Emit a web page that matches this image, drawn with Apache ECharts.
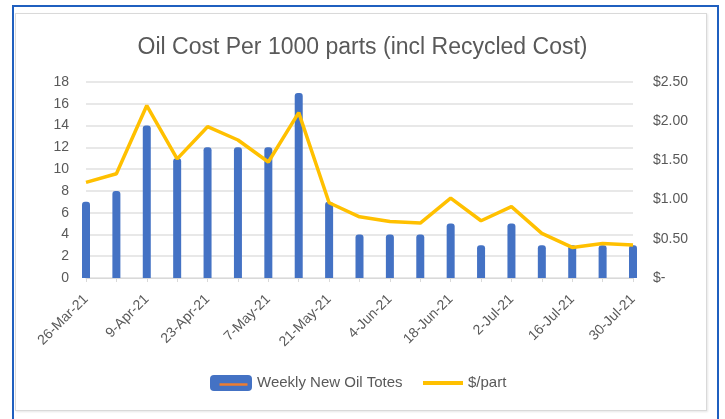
<!DOCTYPE html>
<html>
<head>
<meta charset="utf-8">
<script src="https://cdn.jsdelivr.net/npm/echarts@6/dist/echarts.min.js"></script>
<style>
  html, body { margin: 0; padding: 0; background: #fff; }
  #frame { position: absolute; left: 12px; top: 5px; width: 703px; height: 430px; border: 2px solid #1f5fbf; }
  #card { position: absolute; left: 15px; top: 13px; width: 690px; height: 396px; border: 1px solid #d9d9d9; box-shadow: 1px 1px 2px #e6e6e6; }
  #main { position: absolute; left: 0; top: 0; width: 725px; height: 419px; }
</style>
</head>
<body>
<div id="frame"></div>
<div id="card"></div>
<div id="main"></div>
<script>
// weekly dates
var weeks = ['26-Mar-21', '2-Apr-21', '9-Apr-21', '16-Apr-21', '23-Apr-21', '30-Apr-21', '7-May-21',
  '14-May-21', '21-May-21', '28-May-21', '4-Jun-21', '11-Jun-21', '18-Jun-21', '25-Jun-21',
  '2-Jul-21', '9-Jul-21', '16-Jul-21', '23-Jul-21', '30-Jul-21']
var newOilTotes = [7, 8, 14, 11, 12, 12, 12, 17, 7, 4, 4, 4, 5, 3, 5, 3, 3, 3, 3]
var costPerPart = [1.22, 1.33, 2.20, 1.52, 1.93, 1.76, 1.48, 2.11, 0.96, 0.78, 0.72, 0.70, 1.02, 0.73, 0.91, 0.57, 0.39, 0.44, 0.42]

var labelColor = '#595959'
var fontFam = '"Liberation Sans", Arial, sans-serif'

var myChart = echarts.init(document.getElementById('main'))
myChart.setOption({
  animation: false,
  title: {
    text: 'Oil Cost Per 1000 parts (incl Recycled Cost)',
    left: 'center',
    top: 31,
    textStyle: { fontFamily: fontFam, fontSize: 23, fontWeight: 'normal', color: labelColor }
  },
  // two legends so the bar icon can be a box and the line icon a thin stroke
  legend: [
    {
      data: ['Weekly New Oil Totes'],
      left: 210, top: 375, padding: 0,
      icon: 'roundRect', itemWidth: 42, itemHeight: 16,
      textStyle: { fontFamily: fontFam, fontSize: 15, color: labelColor }
    },
    {
      data: ['$/part'],
      left: 423, top: 375, padding: 0,
      icon: 'rect', itemWidth: 40, itemHeight: 4,
      textStyle: { fontFamily: fontFam, fontSize: 15, color: labelColor, lineHeight: 16 }
    }
  ],
  graphic: [
    // orange stroke Excel draws inside the bar legend swatch
    { type: 'line', left: 217, top: 382, shape: { x1: 0, y1: 0, x2: 28, y2: 0 }, style: { stroke: '#ed7d31', lineWidth: 2.5 }, z: 100 }
  ],
  grid: { left: 86, right: 92, top: 82, bottom: 141, containLabel: false },
  xAxis: {
    type: 'category',
    data: weeks,
    boundaryGap: false,
    axisLine: { lineStyle: { color: '#d9d9d9' } },
    axisTick: { show: true, interval: 0, length: 4, lineStyle: { color: '#d9d9d9' } },
    axisLabel: { interval: 1, rotate: 45, margin: 19, fontFamily: fontFam, fontSize: 14, color: labelColor }
  },
  yAxis: [
    {
      type: 'value', min: 0, max: 18, interval: 2,
      axisLine: { show: false }, axisTick: { show: false },
      splitLine: { lineStyle: { color: '#e0e0e0', width: 1.5 } },
      axisLabel: { margin: 17, fontFamily: fontFam, fontSize: 14, color: labelColor }
    },
    {
      type: 'value', min: 0, max: 2.5, interval: 0.5,
      axisLine: { show: false }, axisTick: { show: false }, splitLine: { show: false },
      axisLabel: {
        margin: 20, fontFamily: fontFam, fontSize: 14, color: labelColor,
        formatter: function (v) { return v === 0 ? '$-' : '$' + v.toFixed(2) }
      }
    }
  ],
  series: [
    {
      name: 'Weekly New Oil Totes',
      type: 'bar',
      data: newOilTotes,
      barWidth: 8,
      itemStyle: { color: '#4472c4', borderRadius: [3, 3, 0, 0] }
    },
    {
      name: '$/part',
      type: 'line',
      yAxisIndex: 1,
      data: costPerPart,
      showSymbol: false,
      symbol: 'none',
      lineStyle: { color: '#ffc000', width: 3.5 },
      itemStyle: { color: '#ffc000' },
      z: 5
    }
  ]
})
</script>
</body>
</html>
